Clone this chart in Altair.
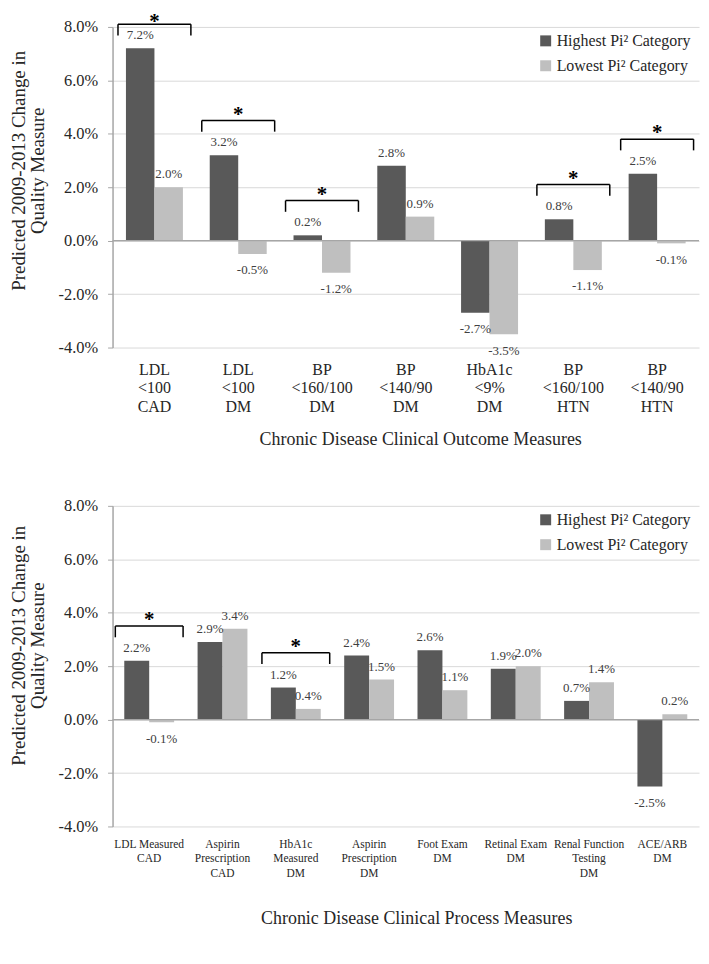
import altair as alt
import pandas as pd

SERIES = ["Highest Pi² Category", "Lowest Pi² Category"]
COLORS = ["#595959", "#bfbfbf"]
Y_TICKS = [-4, -2, 0, 2, 4, 6, 8]
Y_TITLE = ["Predicted 2009-2013 Change in", "Quality Measure"]

outcome_categories = [
    "LDL\n<100\nCAD", "LDL\n<100\nDM", "BP\n<160/100\nDM", "BP\n<140/90\nDM",
    "HbA1c\n<9%\nDM", "BP\n<160/100\nHTN", "BP\n<140/90\nHTN",
]
outcome_highest = [7.2, 3.2, 0.2, 2.8, -2.7, 0.8, 2.5]
outcome_lowest = [2.0, -0.5, -1.2, 0.9, -3.5, -1.1, -0.1]
outcome_significant = [True, True, True, False, False, True, True]
outcome_title = "Chronic Disease Clinical Outcome Measures"

process_categories = [
    "LDL Measured\nCAD", "Aspirin\nPrescription\nCAD", "HbA1c\nMeasured\nDM",
    "Aspirin\nPrescription\nDM", "Foot Exam\nDM", "Retinal Exam\nDM",
    "Renal Function\nTesting\nDM", "ACE/ARB\nDM",
]
process_highest = [2.2, 2.9, 1.2, 2.4, 2.6, 1.9, 0.7, -2.5]
process_lowest = [-0.1, 3.4, 0.4, 1.5, 1.1, 2.0, 1.4, 0.2]
process_significant = [True, False, True, False, False, False, False, False]
process_title = "Chronic Disease Clinical Process Measures"

FONT = "Liberation Serif"
TXT = "#262626"
W = 589
H = 322


def panel(cats, high, low, sig, xtitle, lab_size, lab_lh, lab_pad, title_x, ytitle_y, bx):
    n = len(cats)
    df = pd.DataFrame({
        "cat": cats * 2,
        "series": [SERIES[0]] * n + [SERIES[1]] * n,
        "value": high + low,
    })
    df["label"] = [f"{v:.1f}%" for v in df["value"]]

    sdf = pd.DataFrame({"cat": cats, "top": [max(a, b) for a, b in zip(high, low)], "sig": sig})
    sdf = sdf[sdf["sig"]].copy()
    sdf["level"] = (sdf["top"] + 1.3).clip(upper=8.1)
    sdf["leg"] = sdf["level"] - 0.42
    sdf["star"] = (sdf["level"] + 0.37).clip(upper=8.33)
    sdf["mark"] = "*"

    xscale = alt.Scale(domain=cats, paddingInner=0.32, paddingOuter=0.16)
    yscale = alt.Scale(domain=[-4, 8], nice=False, zero=False)
    offscale = alt.Scale(domain=SERIES)

    xaxis = alt.Axis(
        title=xtitle, labelExpr="split(datum.label, '\\n')", labelAngle=0,
        labelFont=FONT, labelFontSize=lab_size, labelLineHeight=lab_lh,
        labelPadding=lab_pad, labelColor=TXT, ticks=False, tickSize=0,
        domain=False, grid=False,
        titleFont=FONT, titleFontSize=18, titleFontWeight="normal", titleColor=TXT,
        titleX=title_x, titleY=92, titleBaseline="middle", titleAlign="center",
    )
    yaxis = alt.Axis(
        values=Y_TICKS,
        labelExpr="(datum.value < 0 ? '-' : '') + format(abs(datum.value), '.1f') + '%'",
        labelFont=FONT, labelFontSize=16.5, labelColor=TXT, labelPadding=10,
        tickSize=5, tickColor="#a6a6a6", domainColor="#a6a6a6", domainWidth=1.5,
        grid=True, gridColor="#d9d9d9", gridWidth=1,
        title=Y_TITLE, titleFont=FONT, titleFontSize=19, titleFontWeight="normal",
        titleColor=TXT, titleLineHeight=20, titlePadding=10, titleY=ytitle_y,
    )

    X = alt.X("cat:N", scale=xscale, axis=xaxis)
    Y = alt.Y("value:Q", scale=yscale, axis=yaxis)
    XO = alt.XOffset("series:N", scale=offscale)

    bars = alt.Chart(df).mark_bar().encode(
        x=X, xOffset=XO, y=Y,
        color=alt.Color(
            "series:N", scale=alt.Scale(domain=SERIES, range=COLORS),
            legend=alt.Legend(
                title=None, orient="none", legendX=427, legendY=6,
                symbolType="square", symbolSize=121, symbolStrokeWidth=0,
                labelFont=FONT, labelFontSize=16, labelColor=TXT,
                rowPadding=9, labelOffset=3, padding=0,
            ),
        ),
    )
    zero = alt.Chart(pd.DataFrame({"z": [0]})).mark_rule(color="#a6a6a6", strokeWidth=1.3).encode(
        y=alt.Y("z:Q", scale=yscale, axis=yaxis)
    )
    pos = alt.Chart(df).transform_filter("datum.value >= 0").mark_text(
        font=FONT, fontSize=13, color="#404040", baseline="middle", dy=-13
    ).encode(x=X, xOffset=XO, y=Y, text="label:N")
    neg = alt.Chart(df).transform_filter("datum.value < 0").mark_text(
        font=FONT, fontSize=13, color="#404040", baseline="middle", dy=16.5
    ).encode(x=X, xOffset=XO, y=Y, text="label:N")

    Ys = alt.Y("level:Q", scale=yscale, axis=yaxis)
    hline = alt.Chart(sdf).mark_rule(color="black", strokeWidth=1.5, xOffset=-bx, x2Offset=bx).encode(
        x=alt.X("cat:N", scale=xscale, axis=xaxis, bandPosition=0),
        x2=alt.X2("cat", bandPosition=1),
        y=Ys,
    )
    lleg = alt.Chart(sdf).mark_rule(color="black", strokeWidth=1.5, xOffset=-bx).encode(
        x=alt.X("cat:N", scale=xscale, axis=xaxis, bandPosition=0),
        y=Ys, y2="leg:Q",
    )
    rleg = alt.Chart(sdf).mark_rule(color="black", strokeWidth=1.5, xOffset=bx).encode(
        x=alt.X("cat:N", scale=xscale, axis=xaxis, bandPosition=1),
        y=Ys, y2="leg:Q",
    )
    star = alt.Chart(sdf).mark_text(
        font=FONT, fontSize=21, fontWeight="bold", color="black", baseline="middle", dy=4
    ).encode(
        x=alt.X("cat:N", scale=xscale, axis=xaxis, bandPosition=0.5),
        y=alt.Y("star:Q", scale=yscale, axis=yaxis),
        text="mark:N",
    )
    return alt.layer(bars, zero, pos, neg, hline, lleg, rleg, star).properties(width=W, height=H)


top = panel(outcome_categories, outcome_highest, outcome_lowest, outcome_significant,
            outcome_title, 16, 18.5, 14, 309, 144, 8)
bottom = panel(process_categories, process_highest, process_lowest, process_significant,
               process_title, 11.5, 14.7, 12, 305, 140, 9)

chart = alt.vconcat(top, bottom, spacing=48).resolve_scale(
    x="independent", y="independent", color="independent", xOffset="independent"
).resolve_legend(color="independent").configure_view(stroke="transparent").properties(
    padding={"left": 0, "top": 0, "right": 0, "bottom": 5}
)

chart.save("out.html", embed_options={"renderer": "svg", "actions": False})
